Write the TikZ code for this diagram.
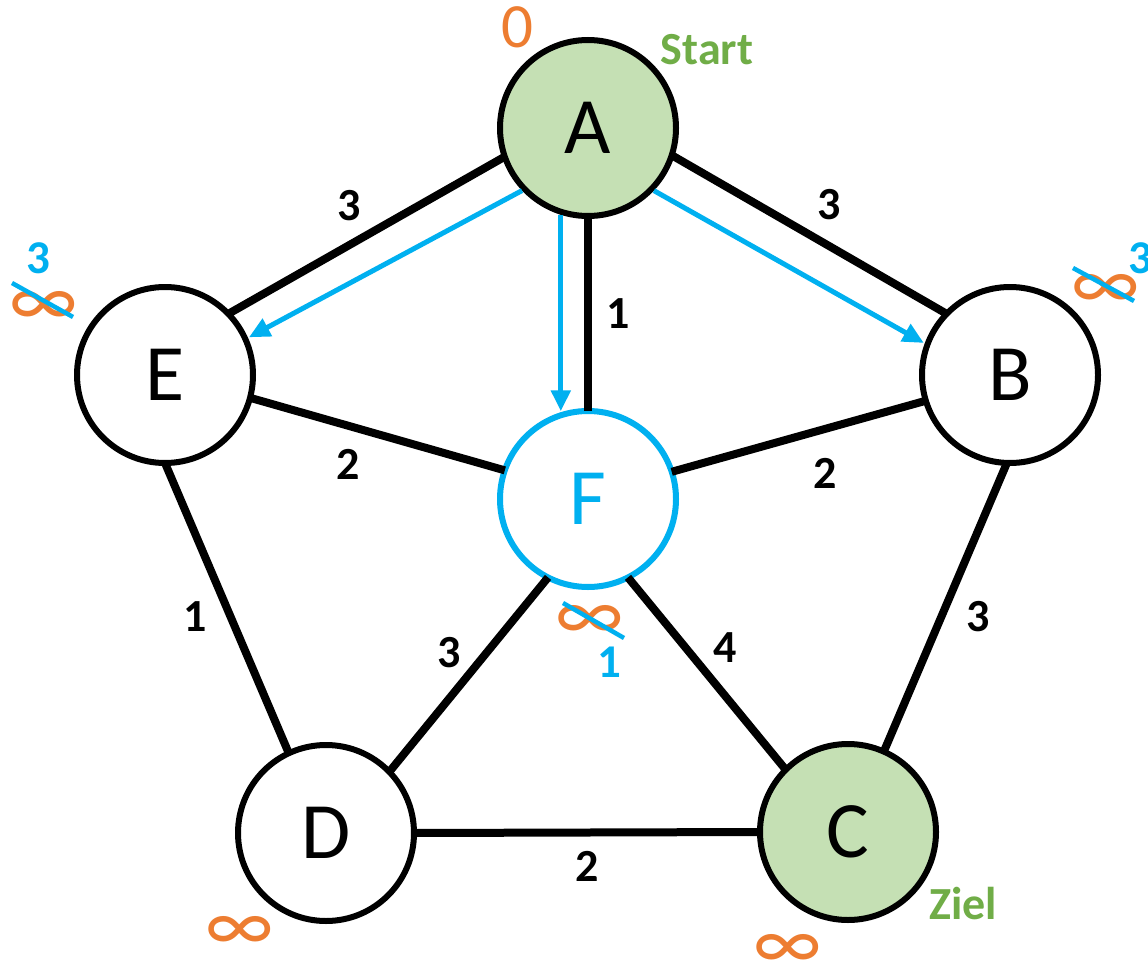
\documentclass[tikz,border=0pt]{standalone}
\usepackage{fontspec}
\setmainfont{Carlito}
\usetikzlibrary{arrows.meta}
\definecolor{pathblue}{HTML}{00B0F0}
\definecolor{distorange}{HTML}{ED7D31}
\definecolor{markgreen}{HTML}{70AD47}
\definecolor{endfill}{HTML}{C5E0B4}
\tikzset{
  vertex/.style={circle, draw, line width=6pt, minimum size=176pt, inner sep=0pt,
    outer sep=0pt, font=\fontsize{80}{80}\selectfont},
  endpoint/.style={vertex, fill=endfill},
  current/.style={vertex, draw=pathblue, text=pathblue},
  edge/.style={line width=8pt},
  weight/.style={font=\fontsize{46}{46}\selectfont\bfseries, inner sep=0pt},
  dist/.style={text=distorange, font=\fontsize{80}{80}\selectfont, inner sep=0pt},
  newdist/.style={text=pathblue, font=\fontsize{47}{47}\selectfont\bfseries, inner sep=0pt},
  tag/.style={text=markgreen, font=\fontsize{46}{46}\selectfont\bfseries, inner sep=0pt},
  relax/.style={draw=pathblue, line width=5pt, shorten <=3pt, shorten >=4pt,
    -{Triangle[length=21pt,width=19pt]}},
  strike/.style={draw=pathblue, line width=4.5pt},
}
\begin{document}
\begin{tikzpicture}[x=1pt, y=-1pt]
\useasboundingbox (0,0) rectangle (1148,963);
\fill[white] (0,0) rectangle (1148,963);

% vertices
\node[endpoint] (A) at (588,128) {A};
\node[vertex]   (E) at (165,375) {E};
\node[vertex]   (B) at (1010,375) {B};
\node[current]  (F) at (588,499) {F};
\node[vertex]   (D) at (326,833) {D};
\node[endpoint] (C) at (848,832) {C};

% weighted edges
\draw[edge] (A.199) -- (E.44);
\draw[edge] (A.-18) -- (B.136);
\draw[edge] (A.270) -- (F.90);
\draw[edge] (E.-15) -- (F.161);
\draw[edge] (F.18)  -- (B.197);
\draw[edge] (E.270) -- (D.115);
\draw[edge] (F.243) -- (D.44);
\draw[edge] (F.-63) -- (C.135);
\draw[edge] (B.268) -- (C.66);
\draw[edge] (D.0)   -- (C.180);

% edge weights
\node[weight] (wAE) at (349,206) {3};
\node[weight] (wAB) at (829,205) {3};
\node[weight] (wAF) at (618,314) {1};
\node[weight] (wEF) at (348,464) {2};
\node[weight] (wFB) at (825,473) {2};
\node[weight] (wED) at (195,617) {1};
\node[weight] (wFD) at (449,653) {3};
\node[weight] (wFC) at (725,648) {4};
\node[weight] (wBC) at (978,617) {3};
\node[weight] (wDC) at (587,866) {2};

% relaxed edges from A
\draw[relax] (A.224) -- (E.24);
\draw[relax] (A.252) -- (F.108);
\draw[relax] (A.-44) -- (B.160);

% start and goal tags
\node[tag] (start) at (707,50) {Start};
\node[tag] (goal) at (963,904) {Ziel};

% tentative distances
\node[dist, font=\fontsize{63}{63}\selectfont] (dA) at (517,27) {0};
\node[dist] (dE) at (44,309) {∞};
\node[dist] (dB) at (1106,292) {∞};
\node[dist] (dF) at (590,623) {∞};
\node[dist] (dD) at (240,934) {∞};
\node[dist] (dC) at (788,952) {∞};

% updated distances
\draw[strike] (12,283) -- (73,317);
\draw[strike] (1073,268) -- (1134,301);
\draw[strike] (563,603) -- (624,638);
\node[newdist] (nE) at (38,258) {3};
\node[newdist] (nB) at (1140,258) {3};
\node[newdist] (nF) at (609,662) {1};
\end{tikzpicture}
\end{document}
